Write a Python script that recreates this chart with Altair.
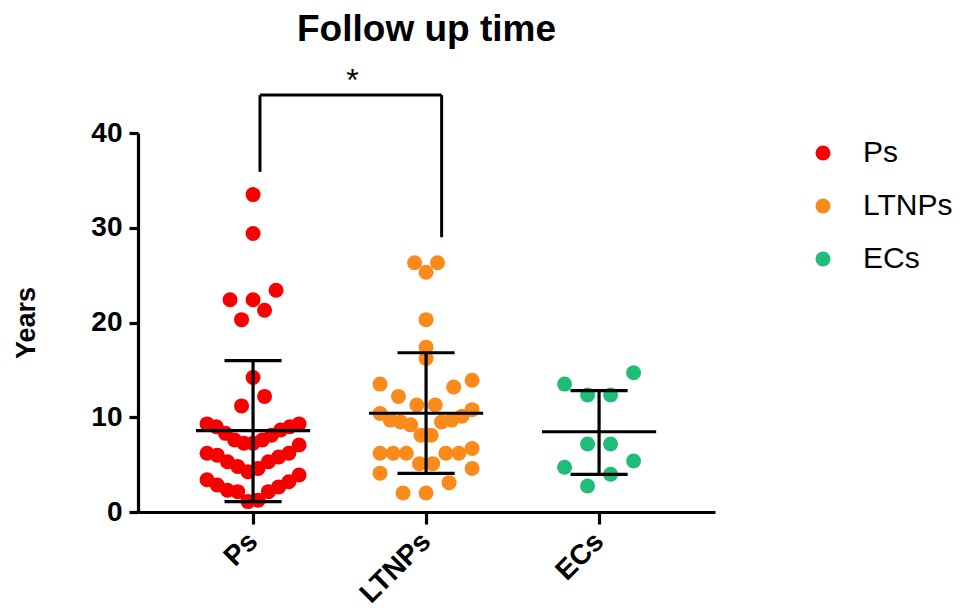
import altair as alt
import numpy as np
import pandas as pd

# ---------------- data ----------------
groups = ["Ps", "LTNPs", "ECs"]
colors = ["#f90000", "#fa8a1a", "#1fbd78"]

ps_years = [33.5, 29.4, 23.4, 22.4, 22.4, 21.3, 20.3, 14.2, 12.2, 11.2, 9.3, 9.3,
            9.0, 9.0, 8.65, 8.3, 8.1, 7.6, 7.6, 7.25, 7.25, 7.07,
            6.2, 6.2, 6.0, 5.8, 5.3, 5.3, 4.8, 4.6, 4.25, 3.9,
            3.4, 3.2, 2.85, 2.65, 2.3, 2.15, 2.15, 1.25, 1.1]
ltnps_years = [26.3, 26.3, 25.3, 20.3, 17.4, 16.2, 13.9, 13.5, 13.2, 12.2, 11.3, 11.3, 10.8,
               10.4, 10.1, 9.7, 9.7, 9.5, 9.5, 9.2, 8.1, 8.1,
               6.7, 6.2, 6.2, 6.2, 6.2, 6.2, 5.1, 5.1, 4.6,
               4.1, 3.1, 2.0, 2.0]
ecs_years = [14.7, 13.5, 12.35, 12.35, 7.18, 7.18, 5.38, 4.72, 3.98, 2.74]

means = [8.58, 10.42, 8.47]
sd_low = [1.09, 4.08, 3.98]
sd_high = [15.97, 16.81, 12.8]

bracket_groups = [1.04, 2.09]
bracket_top = 44.0
bracket_legs = [35.9, 29.0]
star_label = "*"
star_pos = [1.575, 44.4]

y_ticks = [0, 10, 20, 30, 40]


# ---------------- swarm layout (Prism-like rows) ----------------
def swarm(values, row_height=3.0, max_step=0.133, max_span=0.532):
    vals = np.asarray(values, dtype=float)
    order = np.argsort(vals, kind="stable")
    bins = np.floor((vals - vals.min()) / row_height).astype(int)
    offs = np.zeros(len(vals))
    for b in np.unique(bins):
        idx = [i for i in order if bins[i] == b]
        n = len(idx)
        step = max_step if n < 2 else min(max_step, max_span / (n - 1))
        for k, i in enumerate(idx):
            if n % 2 == 1:
                m = (k + 1) // 2
                slot = -m if k % 2 == 1 else m
            else:
                m = k // 2 + 0.5
                slot = -m if k % 2 == 0 else m
            offs[i] = slot * step
    return offs


rows = []
for gi, (g, vals) in enumerate(zip(groups, [ps_years, ltnps_years, ecs_years]), start=1):
    offs = swarm(vals)
    for v, o in zip(vals, offs):
        rows.append({"group": g, "years": v, "x": gi + o})
dots_df = pd.DataFrame(rows)

summary_df = pd.DataFrame({
    "idx": [1, 2, 3],
    "group": groups,
    "mean": means,
    "lo": sd_low,
    "hi": sd_high,
})

bracket_df = pd.DataFrame({
    "x": [bracket_groups[0], bracket_groups[0], bracket_groups[1]],
    "x2": [bracket_groups[1], bracket_groups[0], bracket_groups[1]],
    "y": [bracket_top, bracket_legs[0], bracket_legs[1]],
    "y2": [bracket_top, bracket_top, bracket_top],
})
star_df = pd.DataFrame({"x": [star_pos[0]], "y": [star_pos[1]], "t": [star_label]})

FONT = "Liberation Sans"
label_expr = " : ".join(
    [f"datum.value == {i} ? '{g}'" for i, g in enumerate(groups[:-1], start=1)]
) + f" : '{groups[-1]}'"

x_scale = alt.Scale(domain=[0.335, 3.67], nice=False, zero=False)
y_scale = alt.Scale(domain=[0, 40], nice=False)
x_axis = alt.Axis(values=[1, 2, 3], labelExpr=label_expr, labelAngle=-45,
                  labelAlign="right", labelBaseline="middle", labelPadding=13,
                  tickSize=12, grid=False, title=None)
y_axis = alt.Axis(values=y_ticks, tickSize=9, labelPadding=7, grid=False,
                  title="Years", titlePadding=50)


def X(field):
    return alt.X(field, type="quantitative", scale=x_scale, axis=x_axis, title=None)


def Y(field):
    return alt.Y(field, type="quantitative", scale=y_scale, axis=y_axis, title="Years")


dots = alt.Chart(dots_df).mark_circle(size=225, opacity=1).encode(
    x=X("x"),
    y=Y("years"),
    color=alt.Color("group:N", scale=alt.Scale(domain=groups, range=colors),
                    legend=alt.Legend(title=None, orient="none", legendX=670, legendY=5,
                                      labelFontSize=30, labelFont=FONT, labelColor="#000",
                                      symbolSize=225, symbolType="circle", rowPadding=23,
                                      labelOffset=25, padding=0, symbolStrokeWidth=0)),
)

mean_line = alt.Chart(summary_df).transform_calculate(
    a="datum.idx - 0.33", b="datum.idx + 0.33"
).mark_rule(color="black", strokeWidth=3.2).encode(x=X("a"), x2="b:Q", y=Y("mean"))

sd_line = alt.Chart(summary_df).mark_rule(color="black", strokeWidth=3.2).encode(
    x=X("idx"), y=Y("lo"), y2="hi:Q")

cap_hi = alt.Chart(summary_df).transform_calculate(
    a="datum.idx - 0.165", b="datum.idx + 0.165"
).mark_rule(color="black", strokeWidth=3.2).encode(x=X("a"), x2="b:Q", y=Y("hi"))

cap_lo = alt.Chart(summary_df).transform_calculate(
    a="datum.idx - 0.165", b="datum.idx + 0.165"
).mark_rule(color="black", strokeWidth=3.2).encode(x=X("a"), x2="b:Q", y=Y("lo"))

bracket = alt.Chart(bracket_df).mark_rule(color="black", strokeWidth=3).encode(
    x=X("x"), x2="x2:Q", y=Y("y"), y2="y2:Q")

star = alt.Chart(star_df).mark_text(fontSize=32, font=FONT, color="black",
                                    baseline="alphabetic", align="center").encode(
    x=X("x"), y=Y("y"), text="t:N")

chart = alt.layer(dots, mean_line, sd_line, cap_hi, cap_lo, bracket, star).properties(
    width=577, height=379,
    background="white",
    autosize=alt.AutoSizeParams(type="none"),
    padding={"left": 138, "top": 133, "right": 250, "bottom": 100},
    title=alt.TitleParams("Follow up time", fontSize=37, fontWeight="bold", font=FONT,
                          color="black", anchor="middle", offset=16),
).configure_axis(
    domainColor="black", domainWidth=3.2, tickColor="black", tickWidth=3.2,
    labelFont=FONT, labelFontSize=28, labelFontWeight="bold", labelColor="black",
    titleFont=FONT, titleFontSize=27, titleFontWeight="bold", titleColor="black",
).configure_view(stroke=None)

chart.save("out.html", embed_options={"renderer": "svg", "actions": False})
